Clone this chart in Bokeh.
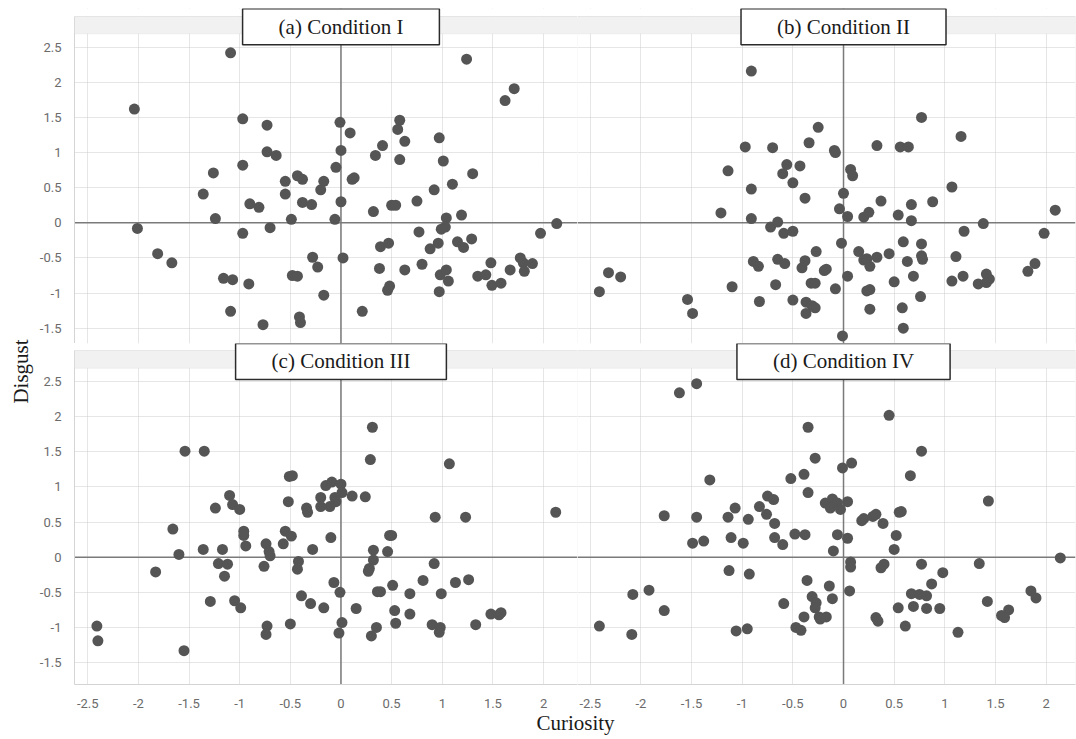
import math
from bokeh.plotting import figure
from bokeh.layouts import column, row
from bokeh.models import Range1d, FixedTicker, Span, BoxAnnotation, Label
from bokeh.embed import file_html
from bokeh.resources import INLINE

# ---------------- data ----------------
x_ticks = [-2.5, -2, -1.5, -1, -0.5, 0, 0.5, 1, 1.5, 2]
x_tick_labels = ["-2.5", "-2", "-1.5", "-1", "-0.5", "0", "0.5", "1", "1.5", "2"]
y_ticks = [-1.5, -1, -0.5, 0, 0.5, 1, 1.5, 2, 2.5]
y_tick_labels = ["-1.5", "-1", "-0.5", "0", "0.5", "1", "1.5", "2", "2.5"]

titles = ["(a) Condition I", "(b) Condition II", "(c) Condition III", "(d) Condition IV"]

a_curiosity = [-1.09, -2.04, -0.97, -0.97, -1.26, -1.36, -0.90, -1.24, -2.01, -0.97, -1.81, -1.67, -1.16, -1.07, -0.91, -1.09,
               -0.73, -0.01, 0.09, 0.58, 0.56, 0.63, 0.41, 0.34, 0.58, -0.73, -0.64, 0.00, -0.05, -0.43, -0.38, -0.55, -0.17, -0.20,
               -0.55, 0.11, 0.13, -0.81, -0.38, -0.29, 0.00, 0.32, 0.50, 0.54, 0.75, -0.49, -0.06, -0.70, 0.77, 0.39, 0.47, -0.28,
               0.02, -0.23, 0.38, 0.63, 0.80, -0.48, -0.43, -0.17, 0.48, 0.46, 0.21, -0.41, -0.40, -0.77,
               1.24, 1.71, 1.62, 0.97, 1.01, 1.30, 1.10, 0.92, 1.19, 1.04, 1.03, 0.99, 0.96, 0.88, 1.15, 1.21, 1.29, 1.97, 2.13,
               0.98, 1.04, 1.06, 0.97, 1.48, 1.35, 1.43, 1.49, 1.58, 1.67, 1.77, 1.80, 1.89, 1.81]
a_disgust = [2.42, 1.62, 1.48, 0.82, 0.71, 0.41, 0.27, 0.06, -0.08, -0.15, -0.44, -0.57, -0.79, -0.81, -0.87, -1.26,
             1.39, 1.43, 1.28, 1.46, 1.33, 1.16, 1.10, 0.96, 0.90, 1.01, 0.96, 1.03, 0.79, 0.67, 0.62, 0.59, 0.59, 0.47,
             0.41, 0.62, 0.64, 0.22, 0.29, 0.26, 0.30, 0.16, 0.25, 0.25, 0.31, 0.05, 0.05, -0.07, -0.13, -0.34, -0.29, -0.49,
             -0.50, -0.63, -0.65, -0.67, -0.59, -0.75, -0.76, -1.03, -0.90, -0.96, -1.26, -1.34, -1.42, -1.45,
             2.33, 1.91, 1.74, 1.21, 0.88, 0.70, 0.55, 0.47, 0.11, 0.07, -0.06, -0.09, -0.29, -0.37, -0.27, -0.35, -0.23, -0.15, -0.01,
             -0.74, -0.67, -0.83, -0.98, -0.57, -0.76, -0.74, -0.89, -0.86, -0.67, -0.50, -0.57, -0.58, -0.69]

b_curiosity = [-0.91, -0.97, -1.14, -0.91, -1.21, -0.91, -0.89, -2.32, -2.20, -2.41, -1.10, -1.54, -1.49,
               -0.25, -0.34, -0.70, -0.09, -0.08, 0.33, 0.56, 0.64, -0.56, -0.43,
               -0.60, -0.50, 0.07, 0.09, 0.00, -0.38, 0.37, -0.04, 0.04, 0.20,
               0.25, 0.54, 0.67, 0.67, -0.72, -0.65, -0.59, -0.50, -0.02, 0.59,
               -0.27, 0.15, 0.45, -0.84, -0.65, -0.58, -0.38, -0.41, -0.19,
               -0.17, 0.20, 0.23, 0.26, 0.33, 0.63, 0.69, 0.04, -0.67, -0.32,
               -0.28, -0.08, 0.23, 0.26, 0.50, -0.83, -0.50, -0.37, -0.31, -0.28,
               -0.37, 0.26, 0.58, 0.59, -0.01,
               0.77, 1.16, 1.07, 0.88, 2.09, 1.19, 1.38, 1.98, 0.77, 0.77, 0.78, 1.11, 1.07, 1.18, 1.33, 1.41, 1.44, 1.41,
               1.82, 1.89, 0.76]
b_disgust = [2.16, 1.08, 0.74, 0.48, 0.14, 0.06, -0.55, -0.71, -0.77, -0.98, -0.91, -1.09, -1.29,
             1.36, 1.14, 1.07, 1.03, 1.00, 1.10, 1.08, 1.08, 0.83, 0.81,
             0.70, 0.57, 0.76, 0.67, 0.42, 0.35, 0.31, 0.20, 0.09, 0.08,
             0.15, 0.11, 0.26, 0.03, -0.06, 0.01, -0.15, -0.12, -0.29, -0.27,
             -0.41, -0.41, -0.44, -0.62, -0.52, -0.58, -0.54, -0.64, -0.68,
             -0.66, -0.53, -0.51, -0.62, -0.49, -0.55, -0.76, -0.76, -0.88, -0.86,
             -0.86, -0.94, -0.97, -0.95, -0.84, -1.12, -1.10, -1.13, -1.18, -1.21,
             -1.29, -1.23, -1.21, -1.50, -1.61,
             1.50, 1.23, 0.51, 0.30, 0.18, -0.12, -0.01, -0.15, -0.30, -0.47, -0.52, -0.48, -0.83, -0.76, -0.87, -0.73, -0.80, -0.85,
             -0.69, -0.58, -1.05]

c_curiosity = [-1.54, -1.35, -1.10, -1.07, -1.00, -1.24, -1.66, -0.96, -0.96, -0.94,
               -1.60, -1.36, -1.17, -1.21, -1.12, -1.15, -1.83, -1.29, -1.05, -0.99, -2.41, -2.40, -1.55,
               0.31, 0.29, -0.51, -0.48, -0.15, -0.09, 0.00, 0.01, -0.20, -0.06,
               -0.05, -0.11, -0.20, 0.11, 0.24, -0.52, -0.34, -0.33, -0.55, -0.49,
               -0.57, -0.74, -0.71, -0.70, -0.10, -0.28, -0.42, -0.43, -0.76, 0.48,
               0.50, 0.32, 0.46, 0.32, 0.28, 0.27, 0.81, -0.07, -0.01, 0.51,
               0.36, 0.39, 0.68, -0.39, -0.30, -0.17, 0.15, 0.53, 0.68, 0.54,
               0.01, -0.50, -0.73, -0.74, -0.02, 0.35, 0.30,
               1.07, 0.93, 1.23, 2.12, 0.92, 1.13, 1.26, 0.99, 0.90, 0.98, 0.97, 1.33, 1.48, 1.56, 1.58]
c_disgust = [1.51, 1.51, 0.88, 0.75, 0.68, 0.70, 0.40, 0.37, 0.31, 0.16,
             0.04, 0.11, 0.11, -0.09, -0.10, -0.27, -0.21, -0.63, -0.62, -0.72, -0.98, -1.19, -1.33,
             1.85, 1.39, 1.15, 1.16, 1.02, 1.07, 1.04, 0.92, 0.85, 0.85,
             0.79, 0.72, 0.72, 0.87, 0.86, 0.79, 0.70, 0.64, 0.37, 0.30,
             0.19, 0.19, 0.08, 0.02, 0.28, 0.11, -0.06, -0.17, -0.13, 0.31,
             0.31, 0.10, 0.08, -0.04, -0.16, -0.20, -0.33, -0.36, -0.50, -0.40,
             -0.49, -0.49, -0.52, -0.55, -0.66, -0.72, -0.73, -0.76, -0.81, -0.94,
             -0.93, -0.95, -0.98, -1.10, -1.08, -1.00, -1.12,
             1.33, 0.57, 0.57, 0.64, -0.09, -0.36, -0.32, -0.52, -0.96, -1.00, -1.07, -0.96, -0.81, -0.82, -0.79]

d_curiosity = [-1.62, -1.45, -1.32, -1.77, -1.45, -1.14, -1.07, -0.94, -1.49,
               -1.38, -1.11, -0.99, -1.13, -0.93, -1.92, -2.08, -1.77, -2.41, -2.09, -1.06, -0.95,
               0.45, -0.35, -0.28, 0.08, -0.01, -0.52, -0.39, 0.66, -0.35, -0.75,
               -0.69, -0.83, -0.76, -0.68, -0.18, -0.11, -0.13, -0.06, -0.03, 0.04,
               0.18, 0.20, 0.29, 0.32, 0.39, 0.55, 0.57, 0.52, 0.50, -0.68,
               -0.60, -0.48, -0.38, -0.06, 0.04, -0.10, 0.07, 0.07, 0.37, 0.40,
               -0.36, -0.14, 0.06, -0.31, -0.11, -0.59, -0.27, -0.28, 0.67, 0.69,
               0.54, -0.39, -0.24, -0.17, -0.23, 0.32, 0.34, -0.47, -0.42, 0.61,
               0.77, 1.43, 0.77, 1.34, 2.14, 0.98, 0.87, 0.75, 0.82, 0.82, 0.95, 1.42, 1.85, 1.90, 1.63, 1.56, 1.59, 1.13]
d_disgust = [2.34, 2.47, 1.10, 0.59, 0.57, 0.57, 0.70, 0.54, 0.20,
             0.23, 0.28, 0.20, -0.19, -0.24, -0.47, -0.53, -0.76, -0.98, -1.10, -1.05, -1.02,
             2.02, 1.85, 1.41, 1.34, 1.27, 1.12, 1.18, 1.16, 0.92, 0.87,
             0.82, 0.72, 0.61, 0.48, 0.77, 0.83, 0.70, 0.77, 0.68, 0.79,
             0.52, 0.55, 0.58, 0.61, 0.48, 0.64, 0.65, 0.31, 0.11, 0.28,
             0.18, 0.33, 0.32, 0.32, 0.27, 0.09, -0.07, -0.14, -0.15, -0.10,
             -0.33, -0.41, -0.48, -0.56, -0.59, -0.66, -0.65, -0.72, -0.52, -0.70,
             -0.72, -0.85, -0.85, -0.85, -0.88, -0.86, -0.91, -1.00, -1.04, -0.98,
             1.51, 0.80, -0.10, -0.09, -0.01, -0.22, -0.38, -0.53, -0.55, -0.73, -0.73, -0.63, -0.48, -0.58, -0.75, -0.83, -0.86, -1.07]

# ---------------- styling helpers ----------------
GRID = "#cdcdcd"
ZERO = "#7a7a7a"
DOT = "#555555"
BORDER = "#d4d4d4"
TICK_FONT = "Roboto"
SERIF = "Liberation Serif"
STRIP_BOTTOM = 2.69


def panel(xs, ys, title, width, height, xr, yr, strip_top, mb, show_x, show_y, title_y):
    p = figure(width=width, height=height, x_range=Range1d(*xr), y_range=Range1d(*yr),
               output_backend="svg", toolbar_location=None,
               min_border_left=mb[0], min_border_right=mb[1],
               min_border_top=mb[2], min_border_bottom=mb[3])
    p.outline_line_color = None
    p.background_fill_color = "white"
    p.border_fill_color = "white"

    for ax in p.axis:
        ax.axis_line_color = BORDER
        ax.major_tick_line_color = None
        ax.minor_tick_line_color = None
        ax.major_label_text_font = TICK_FONT
        ax.major_label_text_font_size = "13px"
        ax.major_label_text_color = "#6b6b6b"
    p.xaxis.ticker = FixedTicker(ticks=x_ticks)
    p.yaxis.ticker = FixedTicker(ticks=y_ticks)
    p.xaxis.major_label_overrides = {float(t): l for t, l in zip(x_ticks, x_tick_labels)}
    p.yaxis.major_label_overrides = {float(t): l for t, l in zip(y_ticks, y_tick_labels)}
    p.xaxis.major_label_standoff = 8
    p.yaxis.major_label_standoff = 7
    p.xaxis.visible = show_x
    p.yaxis.visible = show_y
    p.yaxis.bounds = (yr[0], strip_top)

    p.xgrid.ticker = FixedTicker(ticks=x_ticks)
    p.ygrid.ticker = FixedTicker(ticks=y_ticks)
    for g in p.grid:
        g.grid_line_color = GRID
        g.grid_line_dash = "1 1"
        g.grid_line_width = 1

    p.add_layout(Span(location=0, dimension="height", line_color=ZERO, line_width=1.5, level="underlay"))
    p.add_layout(Span(location=0, dimension="width", line_color=ZERO, line_width=1.5, level="underlay"))

    p.scatter(xs, ys, size=11, fill_color=DOT, line_color=None)

    # white area above the strip (room for the title box)
    p.add_layout(BoxAnnotation(bottom=strip_top, fill_color="white", fill_alpha=1, line_color=None))
    # grey strip
    p.add_layout(BoxAnnotation(bottom=STRIP_BOTTOM, top=strip_top, fill_color="#f1f1f1", fill_alpha=1,
                               line_color=BORDER, line_width=1))
    # panel outline
    p.add_layout(BoxAnnotation(top=strip_top, fill_alpha=0, line_color=BORDER, line_width=1))

    p.add_layout(Label(x=0, y=title_y, text=title, text_align="center", text_baseline="middle",
                       text_font=SERIF, text_font_size="21px", text_color="#1a1a1a",
                       background_fill_color="white", background_fill_alpha=1,
                       border_line_color="#2b2b2b", border_line_width=1.5,
                       padding=(36, 6)))
    return p


top_y = (-1.718, 3.051)
bot_y = (-1.812, 3.042)
top_strip = 2.937
bot_strip = 2.942
left_x = (-2.631, 2.335)
right_x = (-2.626, 2.290)

p_a = panel(a_curiosity, a_disgust, titles[0], 541, 343, left_x, top_y, top_strip, (38, 0, 8, 0), False, True, 2.79)
p_b = panel(b_curiosity, b_disgust, titles[1], 499, 343, right_x, top_y, top_strip, (0, 1, 8, 0), False, False, 2.79)
p_c = panel(c_curiosity, c_disgust, titles[2], 541, 367, left_x, bot_y, bot_strip, (38, 0, 0, 26), True, True, 2.786)
p_d = panel(d_curiosity, d_disgust, titles[3], 499, 367, right_x, bot_y, bot_strip, (0, 1, 0, 26), True, False, 2.786)


def blank(width, height):
    f = figure(width=width, height=height, x_range=Range1d(0, width), y_range=Range1d(0, height),
               output_backend="svg", toolbar_location=None,
               min_border_left=0, min_border_right=0, min_border_top=0, min_border_bottom=0)
    f.axis.visible = False
    f.grid.visible = False
    f.outline_line_color = None
    return f


ylab = blank(36, 710)
ylab.add_layout(Label(x=20, y=710 - 371, text="Disgust", angle=math.pi / 2, text_align="center",
                      text_baseline="middle", text_font=SERIF, text_font_size="21px", text_color="#1a1a1a"))
xlab = blank(1076, 29)
xlab.add_layout(Label(x=575, y=17, text="Curiosity", text_align="center", text_baseline="middle",
                      text_font=SERIF, text_font_size="21px", text_color="#1a1a1a"))

layout = column(row(ylab, column(row(p_a, p_b), row(p_c, p_d))), xlab)

open("out.html", "w").write(file_html(layout, INLINE))
